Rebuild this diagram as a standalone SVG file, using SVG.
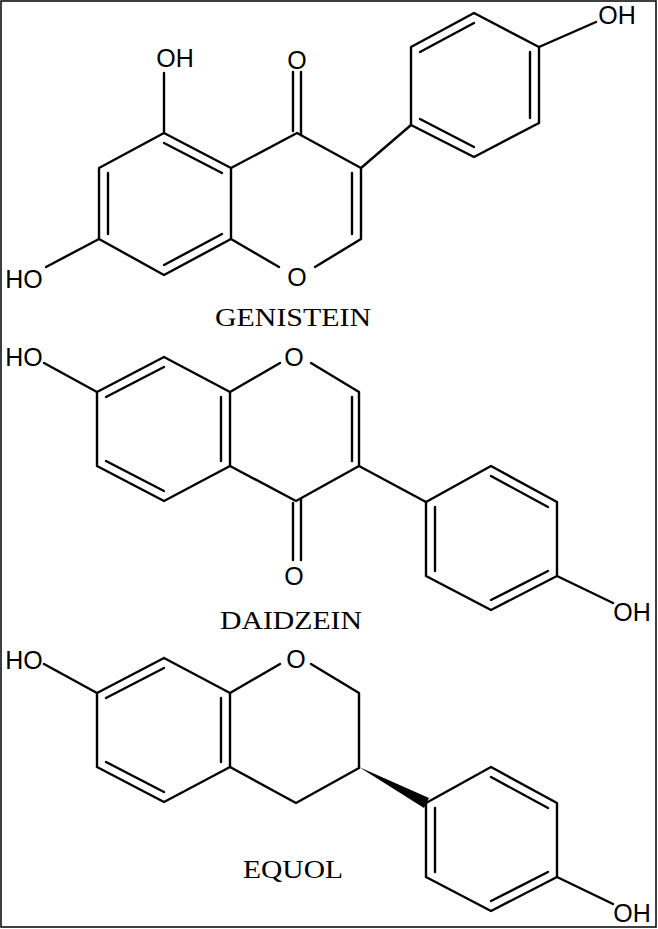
<svg xmlns="http://www.w3.org/2000/svg" width="658" height="929" viewBox="0 0 658 929">
<style>
.b line,.b polyline{stroke:#000;stroke-width:2.4;fill:none;stroke-linecap:round;stroke-linejoin:round}
.a{font-family:"Liberation Sans",Arial,sans-serif;font-size:25px;fill:#000;text-anchor:middle}
.n{font-family:"Liberation Serif","Times New Roman",serif;font-size:25px;fill:#000;text-anchor:middle}
</style>
<rect x="1" y="1" width="655" height="926" fill="#fff" stroke="#000" stroke-width="1.5"/>
<g id="genistein">
<g class="b">
<polyline points="164,133 99,168 99,239 164,275 231,239 231,168 164,133"/>
<line x1="164" y1="143" x2="222" y2="173"/><line x1="108" y1="173" x2="108" y2="234"/><line x1="164" y1="265" x2="222" y2="234"/>
<polyline points="279,267 231,239"/><polyline points="315,267 361,239 361,168 297,133 231,168"/>
<line x1="352" y1="234" x2="352" y2="173"/>
<line x1="293" y1="131" x2="293" y2="72"/><line x1="301" y1="135" x2="301" y2="72"/>
<line x1="361" y1="168" x2="411" y2="125"/>
<polyline points="411,125 411,47 474,13 539,47 539,123 474,157 411,125"/>
<line x1="420" y1="52" x2="474" y2="23"/><line x1="530" y1="52" x2="530" y2="118"/><line x1="474" y1="147" x2="420" y2="119"/>
<line x1="539" y1="47" x2="596" y2="22"/><line x1="164" y1="133" x2="164" y2="73"/><line x1="99" y1="239" x2="46" y2="267"/>
</g>
<text class="a" x="175" y="67">OH</text><text class="a" x="297" y="69">O</text><text class="a" x="617" y="24">OH</text>
<text class="a" x="297" y="286">O</text><text class="a" x="24" y="288">HO</text>
<text class="n" x="293" y="326" textLength="156" lengthAdjust="spacingAndGlyphs">GENISTEIN</text>
</g>
<g id="daidzein">
<g class="b">
<polyline points="164,357 97,392 97,466 164,501 230,466 230,392 164,357"/>
<line x1="106" y1="397" x2="164" y2="367"/><line x1="106" y1="461" x2="164" y2="491"/><line x1="221" y1="397" x2="221" y2="461"/>
<line x1="230" y1="392" x2="280" y2="363"/><polyline points="311,363 359,392 359,466 296,501 230,466"/>
<line x1="352" y1="397" x2="352" y2="461"/>
<line x1="293" y1="503" x2="293" y2="560"/><line x1="301" y1="499" x2="301" y2="560"/>
<line x1="359" y1="466" x2="426" y2="502"/>
<polyline points="426,502 491,466 557,502 557,576 491,610 426,576 426,502"/>
<line x1="435" y1="507" x2="435" y2="571"/><line x1="491" y1="476" x2="548" y2="507"/><line x1="548" y1="571" x2="491" y2="600"/>
<line x1="557" y1="576" x2="613" y2="603"/><line x1="97" y1="392" x2="44" y2="363"/>
</g>
<text class="a" x="24" y="366">HO</text><text class="a" x="294" y="366">O</text><text class="a" x="294" y="585">O</text><text class="a" x="632" y="621">OH</text>
<text class="n" x="291" y="629" textLength="142" lengthAdjust="spacingAndGlyphs">DAIDZEIN</text>
</g>
<g id="equol">
<g class="b">
<polyline points="164,658 97,693 97,767 164,802 230,767 230,693 164,658"/>
<line x1="106" y1="698" x2="164" y2="668"/><line x1="106" y1="762" x2="164" y2="792"/><line x1="221" y1="698" x2="221" y2="762"/>
<line x1="230" y1="693" x2="280" y2="664"/><polyline points="311,664 359,693 359,768 296,803 230,767"/>
<polyline points="426,803 491,767 557,803 557,877 491,911 426,877 426,803"/>
<line x1="435" y1="808" x2="435" y2="872"/><line x1="491" y1="777" x2="548" y2="808"/><line x1="548" y1="872" x2="491" y2="901"/>
<line x1="557" y1="877" x2="613" y2="904"/><line x1="97" y1="693" x2="44" y2="664"/>
</g>
<polygon points="359,767 424,808 429,798" fill="#000"/>
<text class="a" x="24" y="669">HO</text><text class="a" x="296" y="668">O</text><text class="a" x="632" y="922">OH</text>
<text class="n" x="293" y="878" textLength="100" lengthAdjust="spacingAndGlyphs">EQUOL</text>
</g>
</svg>
